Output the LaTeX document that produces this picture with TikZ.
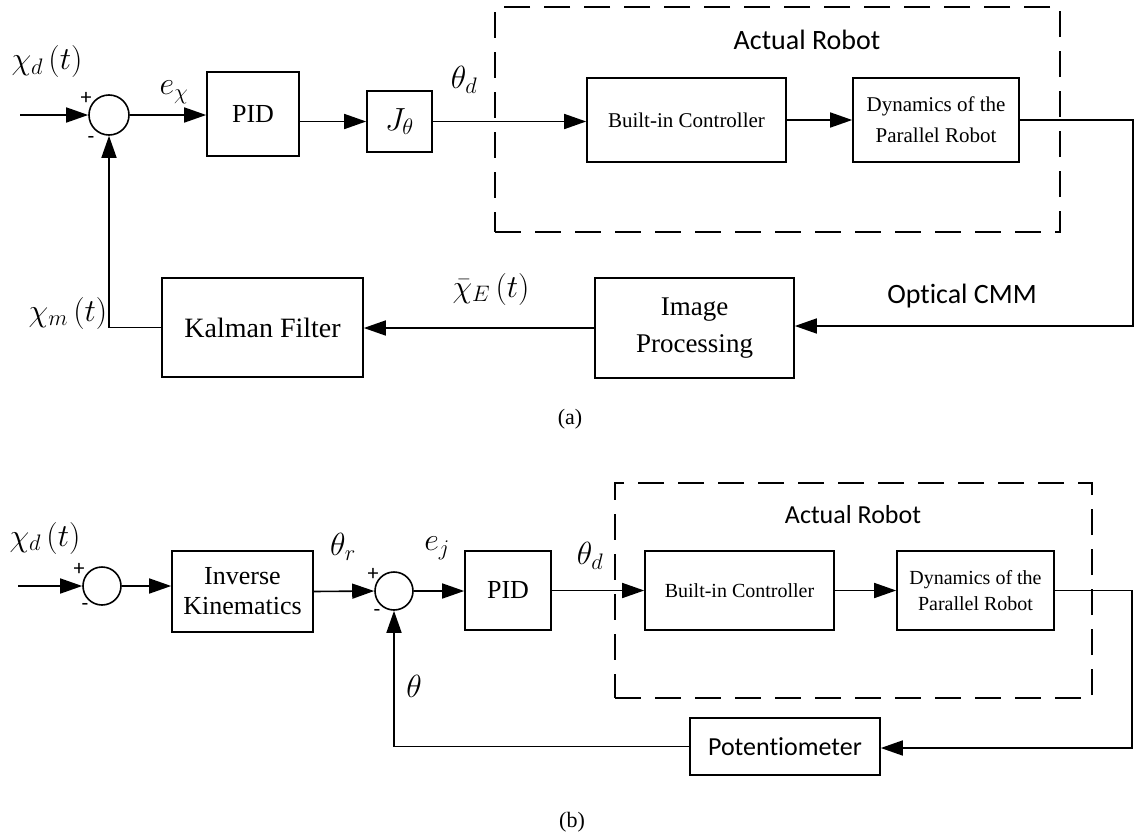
\RequirePackage{fix-cm}
\documentclass[tikz,border=0pt]{standalone}
\usepackage{fontspec}
\setmainfont{Liberation Serif}
\newfontfamily\calib[Ligatures=NoCommon]{Carlito}
\usetikzlibrary{arrows.meta}
\begin{document}
\begin{tikzpicture}[x=1pt,y=-1pt]
\tikzset{
  wire/.style={line width=1.6pt},
  sig/.style={wire, -{Triangle[length=22pt,width=15pt]}},
  blk/.style={draw, line width=1.6pt, inner sep=0pt, align=center},
  sumc/.style={circle, draw, line width=1.6pt, inner sep=0pt},
  frame/.style={draw, line width=1.5pt, dash pattern=on 26pt off 14pt, inner sep=0pt},
  mlab/.style={inner sep=0pt, font=\fontsize{32}{36}\selectfont},
  sgn/.style={inner sep=0pt, font=\calib\fontsize{22}{24}\selectfont},
  clab/.style={inner sep=0pt, font=\calib\fontsize{28}{32}\selectfont},
  captxt/.style={inner sep=0pt, font=\fontsize{22}{26}\selectfont}
}
\useasboundingbox (0,0) rectangle (1138,835);

% ---------------- (a) ----------------
\node[frame, minimum width=565pt, minimum height=225pt] (robotA) at (777.5,119.5) {};
\node[sumc, minimum size=40pt] (s1) at (109,115) {};
\node[blk, minimum width=92pt, minimum height=84pt, font=\fontsize{26}{30}\selectfont] (pid) at (253,114) {PID};
\node[blk, minimum width=65pt, minimum height=61pt, font=\fontsize{32}{36}\selectfont] (jt) at (399.5,121.5) {$J_\theta$};
\node[blk, minimum width=199pt, minimum height=84pt, font=\fontsize{21}{26}\selectfont] (bic) at (686.5,120) {Built-in Controller};
\node[blk, minimum width=166pt, minimum height=84pt, font=\fontsize{21}{31}\selectfont] (dyn) at (936,120) {Dynamics of the\\Parallel Robot};
\node[blk, minimum width=199pt, minimum height=100pt, font=\fontsize{27}{37}\selectfont] (imp) at (694.5,328) {Image\\Processing};
\node[blk, minimum width=201pt, minimum height=99pt, font=\fontsize{28}{34}\selectfont] (kal) at (262.5,327.5) {Kalman Filter};
\coordinate (inA) at (20,115);
\coordinate (rA) at (1133,326);

\draw[sig] (inA) -- (s1.west);
\draw[sig] (s1.east) -- (s1.east -| pid.west);
\draw[sig] (pid.east |- jt.west) -- (jt.west);
\draw[sig] (jt.east) -- (jt.east -| bic.west);
\draw[sig] (bic.east) -- (dyn.west);
\draw[sig] (dyn.east) -| (rA) -- (rA -| imp.east);
\draw[sig] (imp.west) -- (imp.west -| kal.east);
\draw[sig] (kal.west) -| (s1.south);

\node[mlab] (lxd) at (47,62) {$\chi_{d}\,(t)$};
\node[sgn] (pa) at (86,98) {+};
\node[sgn] (ma) at (91,140) {-};
\node[mlab] (lex) at (174,92) {$e_\chi$};
\node[mlab] (ltd) at (464,80) {$\theta_d$};
\node[clab] (ara) at (807,40) {Actual Robot};
\node[clab] (ocmm) at (962,296) {Optical CMM};
\node[mlab] (lxe) at (491,289) {$\bar{\chi}_E\,(t)$};
\node[mlab] (lxm) at (68,313) {$\chi_m\,(t)$};
\node[captxt] (capa) at (570,419) {(a)};

% ---------------- (b) ----------------
\node[frame, minimum width=477pt, minimum height=215pt] (robotB) at (853.5,590.5) {};
\node[sumc, minimum size=38pt] (c1) at (102,586) {};
\node[blk, minimum width=141pt, minimum height=81pt, font=\fontsize{26}{30}\selectfont] (ik) at (242.5,591.5) {Inverse\\Kinematics};
\node[sumc, minimum size=38pt] (c2) at (394,591) {};
\node[blk, minimum width=86pt, minimum height=79pt, font=\fontsize{26}{30}\selectfont] (pid2) at (508,590.5) {PID};
\node[blk, minimum width=189pt, minimum height=79pt, font=\fontsize{20}{25}\selectfont] (bic2) at (739.5,590.5) {Built-in Controller};
\node[blk, minimum width=157pt, minimum height=79pt, font=\fontsize{20}{26}\selectfont] (dyn2) at (975.5,590.5) {Dynamics of the\\Parallel Robot};
\node[blk, minimum width=190pt, minimum height=57pt, font=\calib\fontsize{26}{30}\selectfont] (pot) at (785,746.5) {Potentiometer};
\coordinate (inB) at (18,586);
\coordinate (rB) at (1132,748);

\draw[sig] (inB) -- (c1.west);
\draw[sig] (c1.east) -- (c1.east -| ik.west);
\draw[sig] (ik.east) -- (c2.west);
\draw[sig] (c2.east) -- (c2.east -| pid2.west);
\draw[sig] (pid2.east) -- (bic2.west);
\draw[sig] (bic2.east) -- (dyn2.west);
\draw[sig] (dyn2.east) -| (rB) -- (rB -| pot.east);
\draw[sig] (pot.west) -| (c2.south);

\node[mlab] (lxd2) at (45,538) {$\chi_{d}\,(t)$};
\node[sgn] (pb1) at (79,569) {+};
\node[sgn] (mb1) at (85,607) {-};
\node[mlab] (ltr) at (343,547) {$\theta_r$};
\node[mlab] (lej) at (437,548) {$e_j$};
\node[sgn] (pb2) at (373,574) {+};
\node[sgn] (mb2) at (377,613) {-};
\node[mlab] (ltd2) at (590,556) {$\theta_d$};
\node[clab, font=\calib\fontsize{26}{30}\selectfont] (arb) at (853,515) {Actual Robot};
\node[mlab] (lth) at (414,686) {$\theta$};
\node[captxt] (capb) at (572,822) {(b)};
\end{tikzpicture}
\end{document}
